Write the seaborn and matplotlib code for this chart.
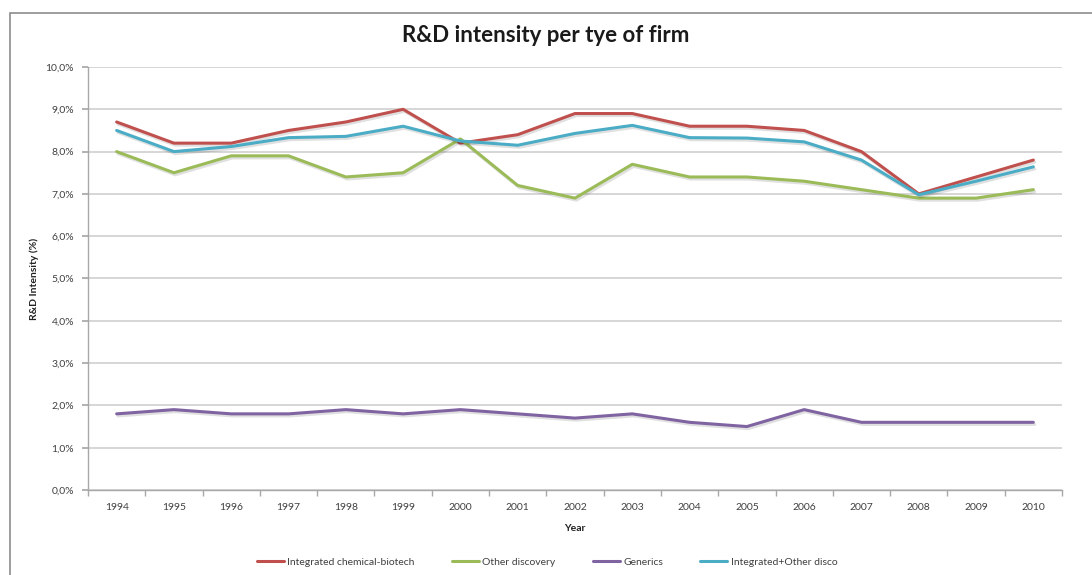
import matplotlib
matplotlib.use("Agg")
import matplotlib.pyplot as plt
import matplotlib.patheffects as pe
from matplotlib.patches import Rectangle
from matplotlib.ticker import FuncFormatter, MultipleLocator
import numpy as np
import pandas as pd
import seaborn as sns

years = list(range(1994, 2011))
integrated = [8.7, 8.2, 8.2, 8.5, 8.7, 9.0, 8.2, 8.4, 8.9, 8.9, 8.6, 8.6, 8.5, 8.0, 7.0, 7.4, 7.8]
other_discovery = [8.0, 7.5, 7.9, 7.9, 7.4, 7.5, 8.3, 7.2, 6.9, 7.7, 7.4, 7.4, 7.3, 7.1, 6.9, 6.9, 7.1]
generics = [1.8, 1.9, 1.8, 1.8, 1.9, 1.8, 1.9, 1.8, 1.7, 1.8, 1.6, 1.5, 1.9, 1.6, 1.6, 1.6, 1.6]
integrated_other = [8.5, 8.0, 8.12, 8.33, 8.36, 8.6, 8.25, 8.15, 8.43, 8.62, 8.33, 8.32, 8.23, 7.8, 6.98, 7.3, 7.64]

series_names = ["Integrated chemical-biotech", "Other discovery", "Generics", "Integrated+Other disco"]
series_values = [integrated, other_discovery, generics, integrated_other]
series_colors = ["#C0504D", "#9BBB59", "#8064A2", "#4BACC6"]

df = pd.DataFrame(
    [(y, v, name) for name, vals in zip(series_names, series_values) for y, v in zip(years, vals)],
    columns=["Year", "Intensity", "Firm type"],
)

sns.set_theme(style="white")
plt.rcParams["font.family"] = ["Lato", "DejaVu Sans"]

fig = plt.figure(figsize=(10.92, 5.75), dpi=100)
fig.patch.set_facecolor("white")

# chart frame
fig.patches.append(Rectangle((10 / 1092, -0.1), 1.2, (575 - 13) / 575 + 0.1,
                             transform=fig.transFigure, fill=False,
                             edgecolor="#8c8c8c", linewidth=1.2))

ax = fig.add_axes([88 / 1092, 1 - 490 / 575, (1062 - 88) / 1092, (490 - 67) / 575])

sns.lineplot(data=df, x="Year", y="Intensity", hue="Firm type", hue_order=series_names,
             palette=series_colors, linewidth=2.2, ax=ax, legend=False)

for line in ax.get_lines():
    line.set_path_effects([pe.SimpleLineShadow(offset=(1, -1.5), alpha=0.12, shadow_color="black"),
                           pe.Normal()])

ax.set_xlim(1993.5, 2010.5)
ax.set_ylim(0, 10)
ax.set_xticks(years)
ax.set_xticklabels([str(y) for y in years])
ax.set_xticks(np.arange(1993.5, 2011, 1), minor=True)
ax.yaxis.set_major_locator(MultipleLocator(1))
ax.yaxis.set_major_formatter(FuncFormatter(lambda v, _: f"{v:.1f}%".replace(".", ",")))

ax.grid(axis="y", color="#d0d0d0", linewidth=1.2)
ax.set_axisbelow(True)
for side in ["top", "right"]:
    ax.spines[side].set_visible(False)
for side in ["left", "bottom"]:
    ax.spines[side].set_color("#a8a8a8")
    ax.spines[side].set_linewidth(1)

ax.tick_params(axis="x", which="major", length=0, labelsize=7.5, labelcolor="#404040", pad=9)
ax.tick_params(axis="x", which="minor", length=4, color="#a8a8a8", direction="out", bottom=True)
ax.tick_params(axis="y", which="major", length=4, color="#a8a8a8", direction="out", left=True,
               labelsize=7.5, labelcolor="#404040", pad=6)

ax.set_xlabel("Year", fontsize=7.5, fontweight="bold", color="#202020", labelpad=9)
ax.set_ylabel("R&D Intensity (%)", fontsize=7.5, fontweight="bold", color="#202020", labelpad=5)

fig.text(0.5, 1 - 36 / 575, "R&D intensity per tye of firm", ha="center", va="center",
         fontsize=16, fontweight="bold", color="#1a1a1a")

handles = [plt.Line2D([], [], color=c, linewidth=2.2) for c in series_colors]
fig.legend(handles, series_names, loc="center", bbox_to_anchor=(547 / 1092, 1 - 562 / 575),
           ncol=4, frameon=False, fontsize=7.5, handlelength=2.6, handletextpad=0.3,
           columnspacing=3.6, labelcolor="#404040")

fig.savefig("out.png", dpi=100, facecolor="white")
